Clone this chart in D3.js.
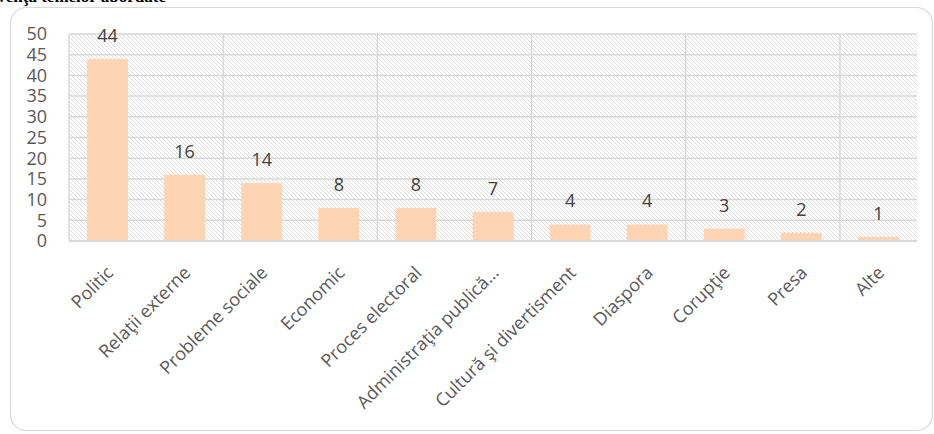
<!DOCTYPE html>
<html>
<head>
<meta charset="utf-8">
<script src="https://cdn.jsdelivr.net/npm/d3@7"></script>
<style>
  body { margin: 0; background: #fff; }
  svg { display: block; }
</style>
</head>
<body>
<svg id="chart" width="934" height="434"></svg>
<script>
const categories = ['Politic', 'Relaţii externe', 'Probleme sociale', 'Economic', 'Proces electoral',
    'Administraţia publică…', 'Cultură şi divertisment', 'Diaspora', 'Corupţie', 'Presa', 'Alte']
const values = [44, 16, 14, 8, 8, 7, 4, 4, 3, 2, 1]
const yTicks = [0, 5, 10, 15, 20, 25, 30, 35, 40, 45, 50]

const svg = d3.select('#chart')
const font = "'Open Sans', sans-serif"

// title cut off at the top of the picture
svg.append('text')
    .attr('x', 166).attr('y', 2)
    .attr('text-anchor', 'end')
    .style('font-family', "'Liberation Serif', serif")
    .style('font-weight', 'bold')
    .style('font-size', '17px')
    .text('Frecvenţa temelor abordate')

// chart border
svg.append('rect')
    .attr('x', 10.5).attr('y', 7.5)
    .attr('width', 922).attr('height', 423)
    .attr('rx', 16)
    .attr('fill', '#fff')
    .attr('stroke', '#d9d9d9')
    .attr('stroke-width', 1.2)

const margin = { left: 69, right: 17, top: 34, bottom: 193 }
const x = d3.scaleBand()
    .domain(categories)
    .range([margin.left, 934 - margin.right])
    .paddingInner(0.47)
    .paddingOuter(0.235)
const y = d3.scaleLinear().domain([0, 50]).range([434 - margin.bottom, margin.top])

const defs = svg.append('defs')
const pat = defs.append('pattern')
    .attr('id', 'hatch')
    .attr('patternUnits', 'userSpaceOnUse')
    .attr('width', 4).attr('height', 4)
pat.append('rect').attr('width', 4).attr('height', 4).attr('fill', '#fff')
pat.append('path')
    .attr('d', 'M-1,-1 L5,5 M-1,3 L1,5 M3,-1 L5,1')
    .attr('stroke', '#d4d4d4')
    .attr('stroke-width', 0.8)

const [x0, x1] = x.range()
svg.append('rect')
    .attr('x', x0).attr('y', y(50))
    .attr('width', x1 - x0).attr('height', y(0) - y(50))
    .attr('fill', 'url(#hatch)')

// horizontal grid
svg.append('g')
    .selectAll('line')
    .data(yTicks)
    .join('line')
    .attr('x1', x0).attr('x2', x1)
    .attr('y1', d => y(d)).attr('y2', d => y(d))
    .attr('stroke', '#d9d9d9')
    .attr('stroke-width', 1.5)

// vertical grid every two categories
const step = x.step()
svg.append('g')
    .selectAll('line')
    .data(d3.range(0, categories.length, 2))
    .join('line')
    .attr('x1', d => x0 + d * step).attr('x2', d => x0 + d * step)
    .attr('y1', y(50)).attr('y2', y(0))
    .attr('stroke', '#d9d9d9')
    .attr('stroke-width', 1.5)

// y tick labels
svg.append('g')
    .selectAll('text')
    .data(yTicks)
    .join('text')
    .attr('x', 47)
    .attr('y', d => y(d))
    .attr('dy', '0.35em')
    .attr('text-anchor', 'end')
    .style('font-family', font)
    .style('font-size', '18px')
    .attr('fill', '#595959')
    .text(d => d)

// bars
svg.append('g')
    .selectAll('rect')
    .data(values)
    .join('rect')
    .attr('x', (d, i) => x(categories[i]))
    .attr('y', d => y(d))
    .attr('width', x.bandwidth())
    .attr('height', d => y(0) - y(d))
    .attr('fill', '#fdd5b4')

// bottom axis line
svg.append('line')
    .attr('x1', x0).attr('x2', x1)
    .attr('y1', y(0)).attr('y2', y(0))
    .attr('stroke', '#d9d9d9')
    .attr('stroke-width', 2)

// value labels
svg.append('g')
    .selectAll('text')
    .data(values)
    .join('text')
    .attr('x', (d, i) => x(categories[i]) + x.bandwidth() / 2)
    .attr('y', d => y(d) - 17)
    .attr('text-anchor', 'middle')
    .style('font-family', font)
    .style('font-size', '18px')
    .attr('fill', '#404040')
    .text(d => d)

// category labels
svg.append('g')
    .selectAll('text')
    .data(categories)
    .join('text')
    .attr('transform', d => `translate(${x(d) + x.bandwidth() / 2 - 2},${y(0) + 24}) rotate(-45)`)
    .attr('text-anchor', 'end')
    .attr('dy', '0.7em')
    .style('font-family', font)
    .style('font-size', '18px')
    .attr('fill', '#595959')
    .text(d => d)
</script>
</body>
</html>
